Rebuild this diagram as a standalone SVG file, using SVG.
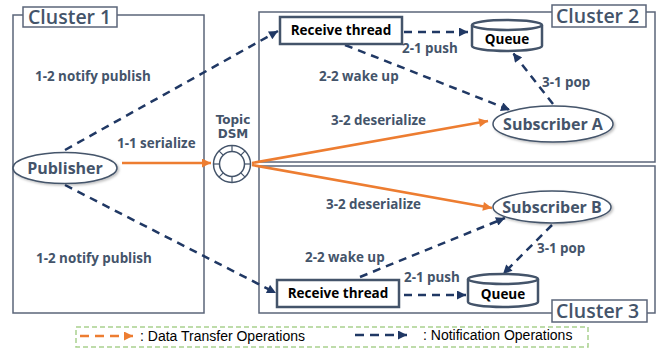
<svg xmlns="http://www.w3.org/2000/svg" width="659" height="350" viewBox="0 0 659 350">
<style>
.cl{fill:none;stroke:#5b6579;stroke-width:1.5}
.lbox{fill:#fff;stroke:#5b6579;stroke-width:1.5}
.ctx{font-family:"Open Sans","DejaVu Sans",sans-serif;font-weight:600;font-size:19.5px;fill:#44546A}
.lab{font-family:"Open Sans","DejaVu Sans",sans-serif;font-weight:700;font-size:13.4px;fill:#44546A}
.dsm{font-family:"DejaVu Sans",sans-serif;font-weight:700;font-size:12px;fill:#44546A;text-anchor:middle}
.ell{fill:#fff;stroke:#44546A;stroke-width:1.5}
.etx{font-family:"Open Sans","DejaVu Sans",sans-serif;font-weight:700;font-size:16px;fill:#44546A;text-anchor:middle}
.box{fill:#fff;stroke:#44546A;stroke-width:2.5}
.btx{font-family:"Open Sans","DejaVu Sans",sans-serif;font-weight:700;font-size:13.5px;fill:#000;text-anchor:middle}
.nav{fill:none;stroke:#203864;stroke-width:2.5;stroke-dasharray:8 6;marker-end:url(#an)}
.org{fill:none;stroke:#ED7D31;stroke-width:2.5;marker-end:url(#ao)}
.leg{font-family:"Liberation Sans",Arial,sans-serif;font-size:14px;fill:#000}
</style>
<defs>
<marker id="an" viewBox="0 0 10 10" refX="10" refY="5" markerWidth="11" markerHeight="9" markerUnits="userSpaceOnUse" orient="auto"><path d="M0,0 L10,5 L0,10 z" fill="#203864"/></marker>
<marker id="ao" viewBox="0 0 10 10" refX="10" refY="5" markerWidth="11" markerHeight="9" markerUnits="userSpaceOnUse" orient="auto"><path d="M0,0 L10,5 L0,10 z" fill="#ED7D31"/></marker>
<filter id="sh" x="-20%" y="-20%" width="150%" height="160%"><feDropShadow dx="1.5" dy="1.5" stdDeviation="1.2" flood-color="#000" flood-opacity="0.25"/></filter>
</defs>

<g id="cluster1">
<rect class="cl" x="13" y="15" width="191" height="298"/>
<rect class="lbox" x="23" y="7" width="94" height="20"/>
<text class="ctx" x="28" y="24">Cluster 1</text>
</g>
<g id="cluster2">
<rect class="cl" x="259" y="12" width="396" height="150"/>
<rect class="lbox" x="552" y="5" width="94" height="22"/>
<text class="ctx" x="556" y="23">Cluster 2</text>
</g>
<g id="cluster3">
<rect class="cl" x="259" y="166" width="396" height="147"/>
<rect class="lbox" x="552" y="300" width="95" height="22"/>
<text class="ctx" x="556" y="318">Cluster 3</text>
</g>

<g id="connectors">
<line class="org" x1="122" y1="163" x2="211" y2="163"/>
<line class="org" x1="252" y1="163" x2="488" y2="121"/>
<line class="org" x1="252" y1="165" x2="492" y2="208"/>
<line class="nav" x1="65" y1="150" x2="278" y2="31"/>
<line class="nav" x1="65" y1="185" x2="276" y2="293"/>
<line class="nav" x1="404" y1="32" x2="468" y2="32"/>
<line class="nav" x1="345" y1="45" x2="510" y2="110"/>
<line class="nav" x1="553" y1="104" x2="513" y2="53"/>
<line class="nav" x1="404" y1="295" x2="466" y2="295"/>
<line class="nav" x1="360" y1="277" x2="505" y2="218"/>
<line class="nav" x1="552" y1="225" x2="503" y2="274"/>
</g>

<g id="labels">
<text class="lab" x="35" y="81">1-2 notify publish</text>
<text class="lab" x="117" y="148">1-1 serialize</text>
<text class="lab" x="36" y="263">1-2 notify publish</text>
<text class="lab" x="402" y="53">2-1 push</text>
<text class="lab" x="319" y="81">2-2 wake up</text>
<text class="lab" x="542" y="87">3-1 pop</text>
<text class="lab" x="331" y="125">3-2 deserialize</text>
<text class="lab" x="326" y="209">3-2 deserialize</text>
<text class="lab" x="305" y="262">2-2 wake up</text>
<text class="lab" x="404" y="282">2-1 push</text>
<text class="lab" x="537" y="253">3-1 pop</text>
</g>

<g id="publisher">
<ellipse class="ell" filter="url(#sh)" cx="65" cy="168" rx="52" ry="15.5"/>
<text class="etx" x="65" y="174">Publisher</text>
</g>

<g id="topic-dsm">
<text class="dsm" x="233" y="124">Topic</text>
<text class="dsm" x="233" y="138">DSM</text>
<circle cx="232" cy="164" r="18.5" fill="#fff" stroke="#44546A" stroke-width="1.5"/>
<circle cx="232" cy="164" r="12.5" fill="#fff" stroke="#44546A" stroke-width="1.5"/>
<g stroke="#44546A" stroke-width="1.2">
<line x1="232" y1="145.5" x2="232" y2="151.5"/>
<line x1="232" y1="176.5" x2="232" y2="182.5"/>
<line x1="213.5" y1="164" x2="219.5" y2="164"/>
<line x1="244.5" y1="164" x2="250.5" y2="164"/>
<line x1="245.1" y1="150.9" x2="240.8" y2="155.2"/>
<line x1="218.9" y1="150.9" x2="223.2" y2="155.2"/>
<line x1="245.1" y1="177.1" x2="240.8" y2="172.8"/>
<line x1="218.9" y1="177.1" x2="223.2" y2="172.8"/>
</g>
</g>

<g id="receive-thread-2">
<rect class="box" x="280" y="17" width="122" height="27"/>
<text class="btx" x="341" y="35">Receive thread</text>
</g>
<g id="queue-2">
<path d="M472,25 A35,5 0 0 1 542,25 L542,46 A35,5 0 0 1 472,46 Z" fill="#fff" stroke="#44546A" stroke-width="2.5"/>
<path d="M472,25 A35,5 0 0 0 542,25" fill="none" stroke="#44546A" stroke-width="2.5"/>
<text class="btx" x="507" y="44">Queue</text>
</g>
<g id="subscriber-a">
<ellipse class="ell" filter="url(#sh)" cx="553" cy="124" rx="60" ry="18"/>
<text class="etx" x="553" y="130">Subscriber A</text>
</g>

<g id="receive-thread-3">
<rect class="box" x="277" y="280" width="122" height="27"/>
<text class="btx" x="338" y="298">Receive thread</text>
</g>
<g id="queue-3">
<path d="M468,279 A35,5 0 0 1 538,279 L538,302 A35,5 0 0 1 468,302 Z" fill="#fff" stroke="#44546A" stroke-width="2.5"/>
<path d="M468,279 A35,5 0 0 0 538,279" fill="none" stroke="#44546A" stroke-width="2.5"/>
<text class="btx" x="503" y="299">Queue</text>
</g>
<g id="subscriber-b">
<ellipse class="ell" filter="url(#sh)" cx="552" cy="207" rx="59" ry="16"/>
<text class="etx" x="552" y="213">Subscriber B</text>
</g>

<g id="legend">
<rect x="76" y="327" width="512" height="20" fill="none" stroke="#A9D18E" stroke-width="1.5" stroke-dasharray="5 3"/>
<line x1="80" y1="336" x2="133" y2="336" stroke="#ED7D31" stroke-width="2.5" stroke-dasharray="9 6" marker-end="url(#ao)"/>
<text class="leg" x="140" y="341">: Data Transfer Operations</text>
<line x1="355" y1="335" x2="407" y2="335" stroke="#203864" stroke-width="2.5" stroke-dasharray="9 6" marker-end="url(#an)"/>
<text class="leg" x="423" y="340">: Notification Operations</text>
</g>
</svg>
